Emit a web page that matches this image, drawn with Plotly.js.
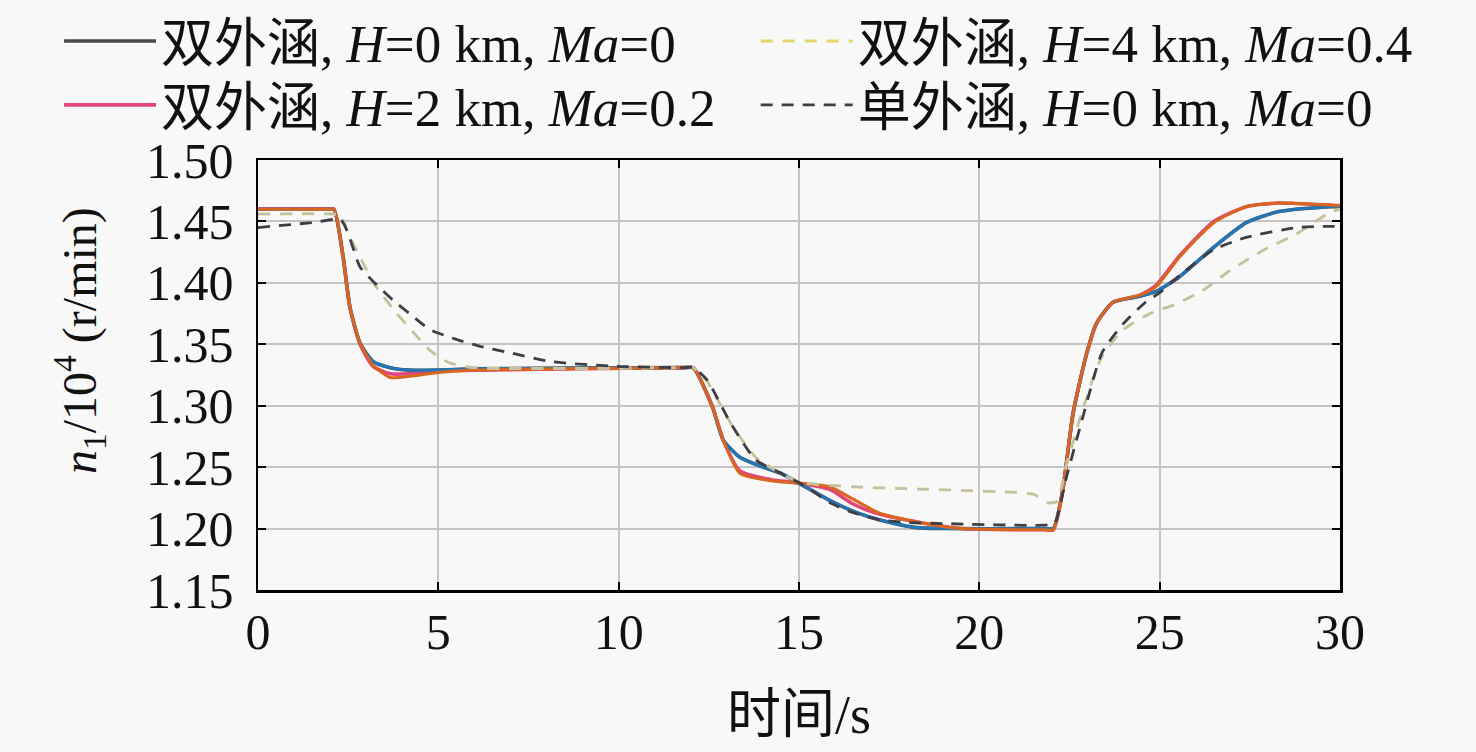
<!DOCTYPE html>
<html>
<head>
<meta charset="utf-8">
<script src="https://cdn.plot.ly/plotly-3.0.1.min.js"></script>
<style>html,body{margin:0;padding:0;background:#f8f8f8;}#chart{width:1476px;height:752px;}</style>
</head>
<body>
<div id="chart"></div>
<script>
// Legend labels
const labelH0 = '双外涵, <i>H</i>=0 km, <i>Ma</i>=0';
const labelH4 = '双外涵, <i>H</i>=4 km, <i>Ma</i>=0.4';
const labelH2 = '双外涵, <i>H</i>=2 km, <i>Ma</i>=0.2';
const labelSingle = '单外涵, <i>H</i>=0 km, <i>Ma</i>=0';

// Double bypass, blue-like response (time s, n1/10^4 r/min)
const tBlue = [0, 1.9, 2.1, 2.36, 2.55, 2.83, 3.19, 3.66, 4.2, 5, 6, 11.8, 12.06, 12.6, 12.9, 13.36, 14.0, 14.5, 15.0, 15.85, 16.6, 17.25, 18.2, 19.0, 21.8, 22.05, 22.3, 22.6, 22.98, 23.25, 23.7, 24.45, 24.9, 25.55, 26.5, 27.4, 28.3, 29.7, 30];
const yBlue = [1.460, 1.460, 1.460, 1.421, 1.380, 1.351, 1.336, 1.331, 1.329, 1.329, 1.330, 1.331, 1.331, 1.299, 1.272, 1.258, 1.250, 1.245, 1.237, 1.223, 1.213, 1.207, 1.201, 1.200, 1.200, 1.200, 1.229, 1.294, 1.343, 1.367, 1.384, 1.389, 1.393, 1.405, 1.429, 1.449, 1.458, 1.462, 1.462];

// Double bypass, orange-like response
const tOrange = [0, 1.9, 2.1, 2.36, 2.55, 2.83, 3.19, 3.66, 4.2, 5, 6, 11.8, 12.06, 12.6, 12.9, 13.36, 14.2, 15.0, 15.85, 16.5, 17.2, 18.35, 19.5, 21.8, 22.05, 22.3, 22.6, 22.98, 23.25, 23.7, 24.45, 24.9, 25.55, 26.5, 27.4, 28.3, 29.9, 30];
const yOrange = [1.460, 1.460, 1.460, 1.421, 1.380, 1.351, 1.333, 1.323, 1.324, 1.327, 1.329, 1.331, 1.331, 1.299, 1.272, 1.245, 1.239, 1.237, 1.234, 1.224, 1.213, 1.205, 1.200, 1.199, 1.199, 1.229, 1.294, 1.343, 1.367, 1.384, 1.390, 1.397, 1.421, 1.449, 1.462, 1.465, 1.463, 1.463];

// Double bypass H=2 km (pink)
const tPink = [0, 1.9, 2.1, 2.36, 2.55, 2.83, 3.19, 3.66, 4.2, 5, 6, 11.8, 12.06, 12.6, 12.9, 13.36, 14.2, 15.0, 15.85, 16.5, 17.2, 18.35, 19.5, 21.8, 22.05, 22.3, 22.6, 22.98, 23.25, 23.7, 24.45, 24.9, 25.55, 26.5, 27.4, 28.3, 29.9, 30];
const yPink = [1.460, 1.460, 1.460, 1.421, 1.380, 1.350, 1.332, 1.326, 1.326, 1.328, 1.329, 1.331, 1.331, 1.299, 1.272, 1.247, 1.240, 1.237, 1.232, 1.220, 1.212, 1.205, 1.200, 1.199, 1.199, 1.229, 1.294, 1.343, 1.367, 1.384, 1.390, 1.398, 1.422, 1.450, 1.462, 1.465, 1.463, 1.463];

// Double bypass H=4 km (light dashed)
const tLight = [0, 2.1, 2.3, 2.5, 2.83, 3.2, 3.85, 4.3, 4.77, 5.3, 6, 11.8, 12.06, 12.45, 13.1, 13.8, 14.5, 15.0, 16.5, 18.5, 20.5, 21.5, 21.9, 22.15, 22.4, 22.9, 23.4, 24.0, 24.8, 25.4, 26.2, 26.95, 27.9, 28.8, 29.7, 30];
const yLight = [1.456, 1.456, 1.455, 1.440, 1.421, 1.400, 1.375, 1.360, 1.345, 1.335, 1.331, 1.331, 1.331, 1.320, 1.286, 1.258, 1.245, 1.238, 1.234, 1.232, 1.230, 1.228, 1.221, 1.222, 1.250, 1.300, 1.340, 1.362, 1.376, 1.382, 1.394, 1.410, 1.427, 1.440, 1.457, 1.460];

// Single bypass H=0 km (dark dashed)
const tSingle = [0, 1.5, 2.3, 2.83, 3.2, 3.74, 4.2, 4.77, 5.5, 6.2, 7, 8.1, 9.95, 11.8, 12.06, 12.45, 13.1, 13.8, 14.5, 15.2, 15.86, 16.5, 17.25, 18, 19.1, 21.9, 22.1, 22.4, 22.9, 23.4, 24.0, 24.6, 25.0, 25.55, 26.5, 27.4, 28.8, 29.7, 30];
const ySingle = [1.445, 1.449, 1.451, 1.413, 1.401, 1.386, 1.375, 1.362, 1.354, 1.348, 1.343, 1.336, 1.332, 1.331, 1.331, 1.321, 1.286, 1.256, 1.245, 1.234, 1.221, 1.213, 1.207, 1.205, 1.204, 1.203, 1.205, 1.240, 1.294, 1.343, 1.367, 1.384, 1.392, 1.406, 1.427, 1.437, 1.445, 1.446, 1.446];

const xTicks = [0, 5, 10, 15, 20, 25, 30];
const yTicks = [1.15, 1.20, 1.25, 1.30, 1.35, 1.40, 1.45, 1.50];

const FONT = '"Liberation Serif", "Times New Roman", "Noto Sans CJK SC", serif';
const sm = 0.6;
const legFont = {family: FONT, size: 53, color: '#111'};

const traces = [
  {x: tBlue, y: yBlue, mode: 'lines', name: labelH0, legend: 'legend', 
   line: {color: '#4a4a4a', width: 3.6, shape: 'spline', smoothing: sm}},
  {x: tPink, y: yPink, mode: 'lines', name: labelH2, legend: 'legend3',
   line: {color: '#e0467c', width: 3.6, shape: 'spline', smoothing: sm}},
  {x: tBlue, y: yBlue, mode: 'lines', showlegend: false,
   line: {color: '#2277b8', width: 3, shape: 'spline', smoothing: sm}},
  {x: tOrange, y: yOrange, mode: 'lines', showlegend: false,
   line: {color: '#d9661f', width: 3, shape: 'spline', smoothing: sm}},
  {x: tLight, y: yLight, mode: 'lines', name: labelH4, legend: 'legend2',
   line: {color: '#e2d66a', width: 3, dash: '12px,10px', shape: 'spline', smoothing: sm}},
  {x: tLight, y: yLight, mode: 'lines', showlegend: false,
   line: {color: '#bcbcbc', width: 2, dash: '12px,10px', shape: 'spline', smoothing: sm}},
  {x: tSingle, y: ySingle, mode: 'lines', name: labelSingle, legend: 'legend4',
   line: {color: '#3e3e46', width: 2.8, dash: '12px,9px', shape: 'spline', smoothing: sm}}
];

const legendBase = {
  orientation: 'v', xref: 'container', yref: 'container',
  xanchor: 'left', yanchor: 'top',
  itemwidth: 92, bgcolor: 'rgba(0,0,0,0)', font: legFont, tracegroupgap: 0
};
const row1 = 1.0, row2 = 0.915, col1 = 0.040, col2 = 0.512;

const layout = {
  width: 1476, height: 752,
  paper_bgcolor: '#f8f8f8', plot_bgcolor: '#f8f8f8',
  margin: {l: 258, r: 136, t: 160, b: 162, autoexpand: false},
  font: {family: FONT, size: 50, color: '#111'},
  showlegend: true,
  legend: Object.assign({}, legendBase, {x: col1, y: row1}),
  legend2: Object.assign({}, legendBase, {x: col2, y: row1}),
  legend3: Object.assign({}, legendBase, {x: col1, y: row2}),
  legend4: Object.assign({}, legendBase, {x: col2, y: row2}),
  xaxis: {
    range: [0, 30], tickvals: xTicks, ticktext: xTicks.map(String),
    showgrid: true, gridcolor: '#c4c4c4', gridwidth: 2,
    zeroline: false, showline: true, linecolor: '#000', linewidth: 2.5, mirror: 'ticks',
    ticks: 'inside', ticklen: 8, tickwidth: 2, tickcolor: '#000',
    ticklabelstandoff: -4, automargin: false,
    tickfont: {family: FONT, size: 50, color: '#111'},
    title: {text: '时间/s', font: {family: FONT, size: 54, color: '#111'}, standoff: 37}
  },
  yaxis: {
    range: [1.15, 1.50], tickvals: yTicks, ticktext: yTicks.map(v => v.toFixed(2)),
    showgrid: true, gridcolor: '#c4c4c4', gridwidth: 2,
    zeroline: false, showline: true, linecolor: '#000', linewidth: 2.5, mirror: 'ticks',
    ticks: 'inside', ticklen: 8, tickwidth: 2, tickcolor: '#000',
    ticklabelstandoff: 12, automargin: false,
    tickfont: {family: FONT, size: 50, color: '#111'}
  },
  annotations: [{
    text: '<i>n</i><sub>1</sub>/10<sup>4</sup> (r/min)', textangle: -90,
    xref: 'paper', yref: 'paper', x: -0.165, y: 0.58, xanchor: 'center', yanchor: 'middle',
    showarrow: false, font: {family: FONT, size: 48, color: '#111'}
  }]
};

Plotly.newPlot('chart', traces, layout, {displayModeBar: false, staticPlot: true});
</script>
</body>
</html>
